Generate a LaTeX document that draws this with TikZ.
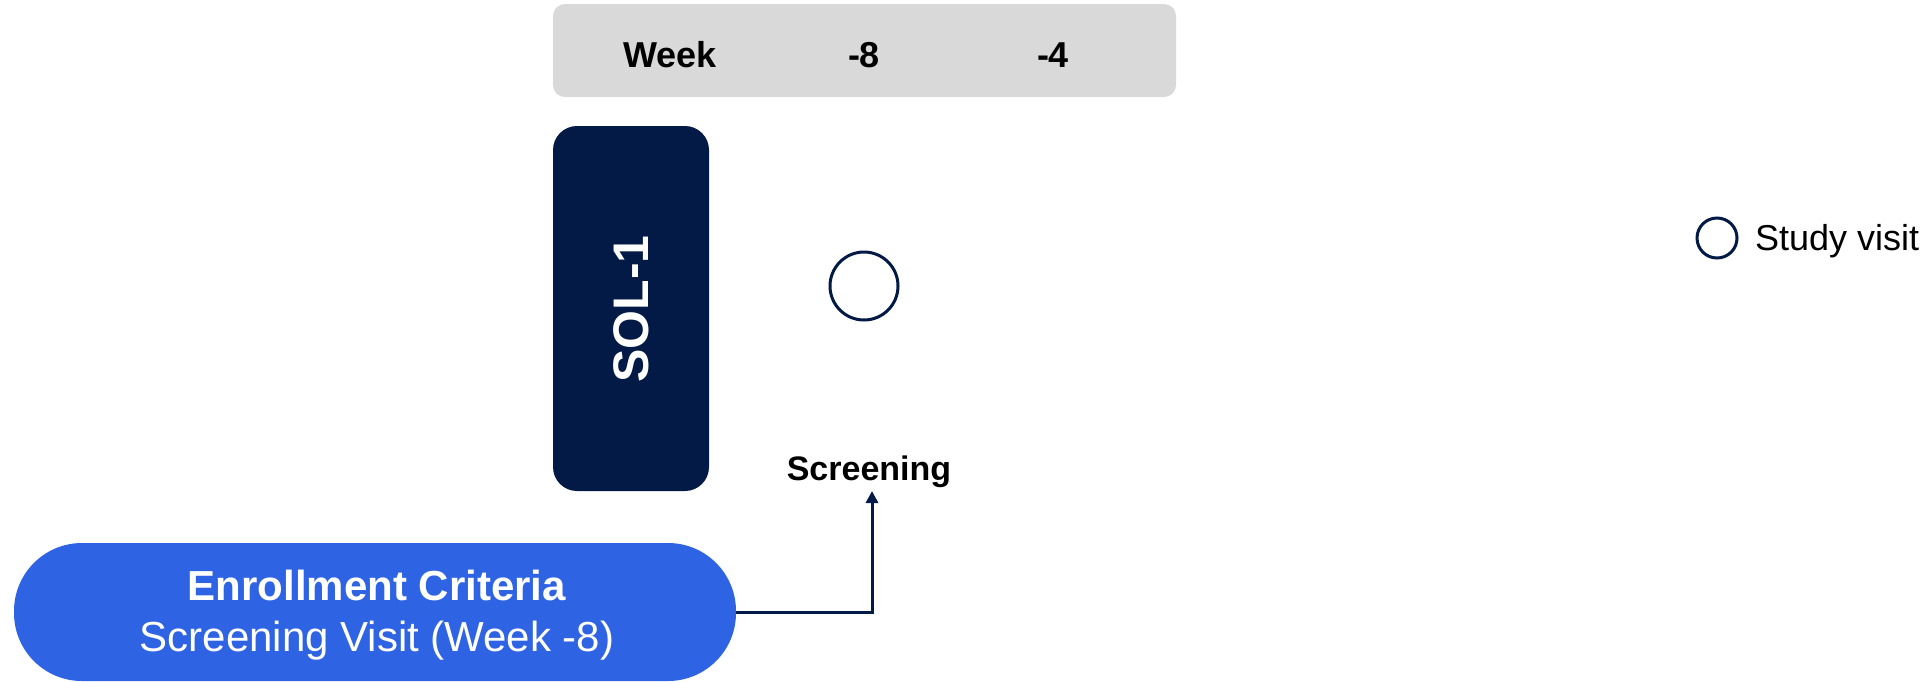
\documentclass[tikz,border=0pt]{standalone}
\usepackage{fontspec}
\setmainfont{Liberation Sans}
\usetikzlibrary{arrows.meta}
\definecolor{navy}{HTML}{021A45}
\definecolor{pillblue}{HTML}{2E63E3}
\definecolor{bargray}{HTML}{D9D9D9}
\begin{document}
\begin{tikzpicture}[x=0.5pt,y=-0.5pt,
  hdr/.style={font=\fontsize{18}{21}\selectfont\bfseries, text=black},
  visit/.style={circle, draw=navy, line width=1.5pt, fill=white, inner sep=0pt},
  conn/.style={draw=navy, line width=1.5pt, -{Triangle[length=6pt,width=6pt]}}]
\useasboundingbox (0,0) rectangle (1931,681);
% header bar
\fill[bargray, rounded corners=6pt] (553,4) rectangle (1176,97);
\node[hdr] (wk) at (670,55) {Week};
\node[hdr] (w8) at (864,55) {-8};
\node[hdr] (w4) at (1053,55) {-4};
% arm box
\fill[navy, rounded corners=12pt] (553,126) rectangle (709,491);
\node[rotate=90, text=white, font=\fontsize{25}{30}\selectfont\bfseries] (sol) at (631,309) {SOL-1};
% visit circle
\node[visit, minimum size=34pt] (v1) at (864,286) {};
\node[font=\fontsize{17}{20}\selectfont\bfseries] (scr) at (869,472) {Screening};
% enrollment pill
\fill[pillblue, rounded corners=34pt] (14,543) rectangle (736,681);
\node[text=white, align=center, font=\fontsize{21}{25.5}\selectfont] (pill) at (377,615)
  {{\bfseries Enrollment Criteria}\\Screening Visit (Week -8)};
\coordinate (pr) at (736,612);
\coordinate (corner) at (872,612);
\coordinate (tip) at (872,491);
\draw[conn] (pr) -- (corner) -- (tip);
% legend
\node[visit, minimum size=20pt] (lg) at (1717,238) {};
\node[anchor=west, font=\fontsize{18}{21}\selectfont] (lgt) at (1748,241) {Study visit};
\end{tikzpicture}
\end{document}
